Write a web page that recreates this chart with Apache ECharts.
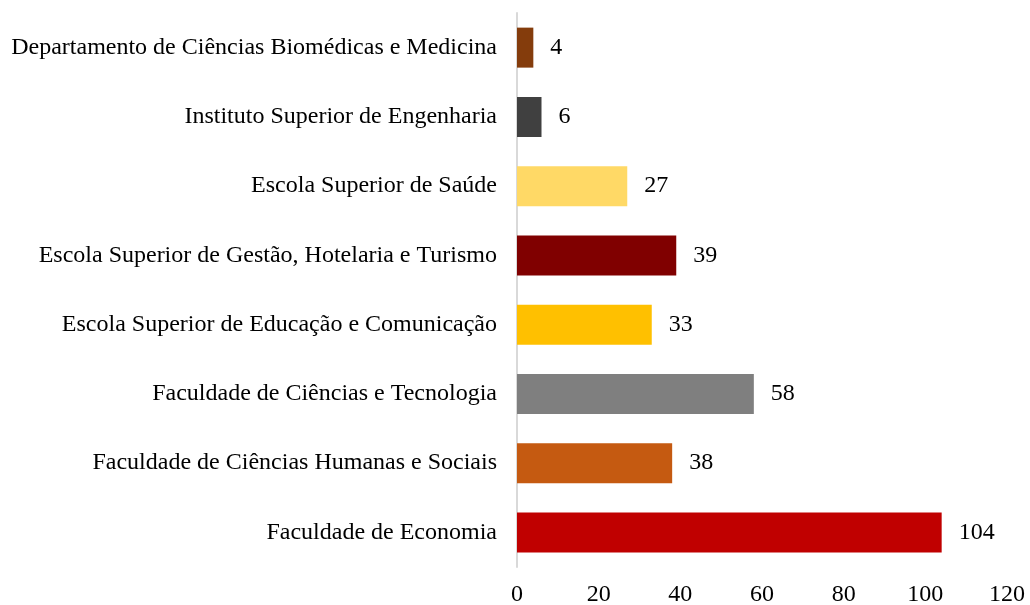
<!DOCTYPE html>
<html>
<head>
<meta charset="utf-8">
<script src="https://cdn.jsdelivr.net/npm/echarts@6/dist/echarts.min.js"></script>
<style>
  html, body { margin: 0; padding: 0; background: #fff; }
  #main { width: 1030px; height: 605px; }
</style>
</head>
<body>
<div id="main"></div>
<script>
// categories, bottom to top
const categories = [
    'Faculdade de Economia',
    'Faculdade de Ciências Humanas e Sociais',
    'Faculdade de Ciências e Tecnologia',
    'Escola Superior de Educação e Comunicação',
    'Escola Superior de Gestão, Hotelaria e Turismo',
    'Escola Superior de Saúde',
    'Instituto Superior de Engenharia',
    'Departamento de Ciências Biomédicas e Medicina'
]
const values = [104, 38, 58, 33, 39, 27, 6, 4]
const barColors = ['#C00000', '#C55A11', '#7F7F7F', '#FFC000', '#800000', '#FFD966', '#404040', '#843C0C']

const font = '"Liberation Serif", "Times New Roman", serif'

const chart = echarts.init(document.getElementById('main'))

chart.setOption({
    animation: false,
    grid: {
        left: 517,
        right: 23,
        top: 13,
        bottom: 38,
        containLabel: false,
        outerBoundsMode: 'none'
    },
    xAxis: {
        type: 'value',
        min: 0,
        max: 120,
        interval: 20,
        axisLine: { show: false },
        axisTick: { show: false },
        splitLine: { show: false },
        axisLabel: {
            color: '#000',
            fontFamily: font,
            fontSize: 24,
            margin: 16
        }
    },
    yAxis: {
        type: 'category',
        data: categories,
        axisLine: { show: true, lineStyle: { color: '#D9D9D9', width: 2 } },
        axisTick: { show: false },
        axisLabel: {
            color: '#000',
            fontFamily: font,
            fontSize: 24,
            margin: 20
        }
    },
    series: [{
        type: 'bar',
        barWidth: 40,
        data: values.map((v, i) => ({
            value: v,
            itemStyle: { color: barColors[i] }
        })),
        label: {
            show: true,
            position: 'right',
            distance: 17,
            color: '#000',
            fontFamily: font,
            fontSize: 24
        }
    }]
})
</script>
</body>
</html>
